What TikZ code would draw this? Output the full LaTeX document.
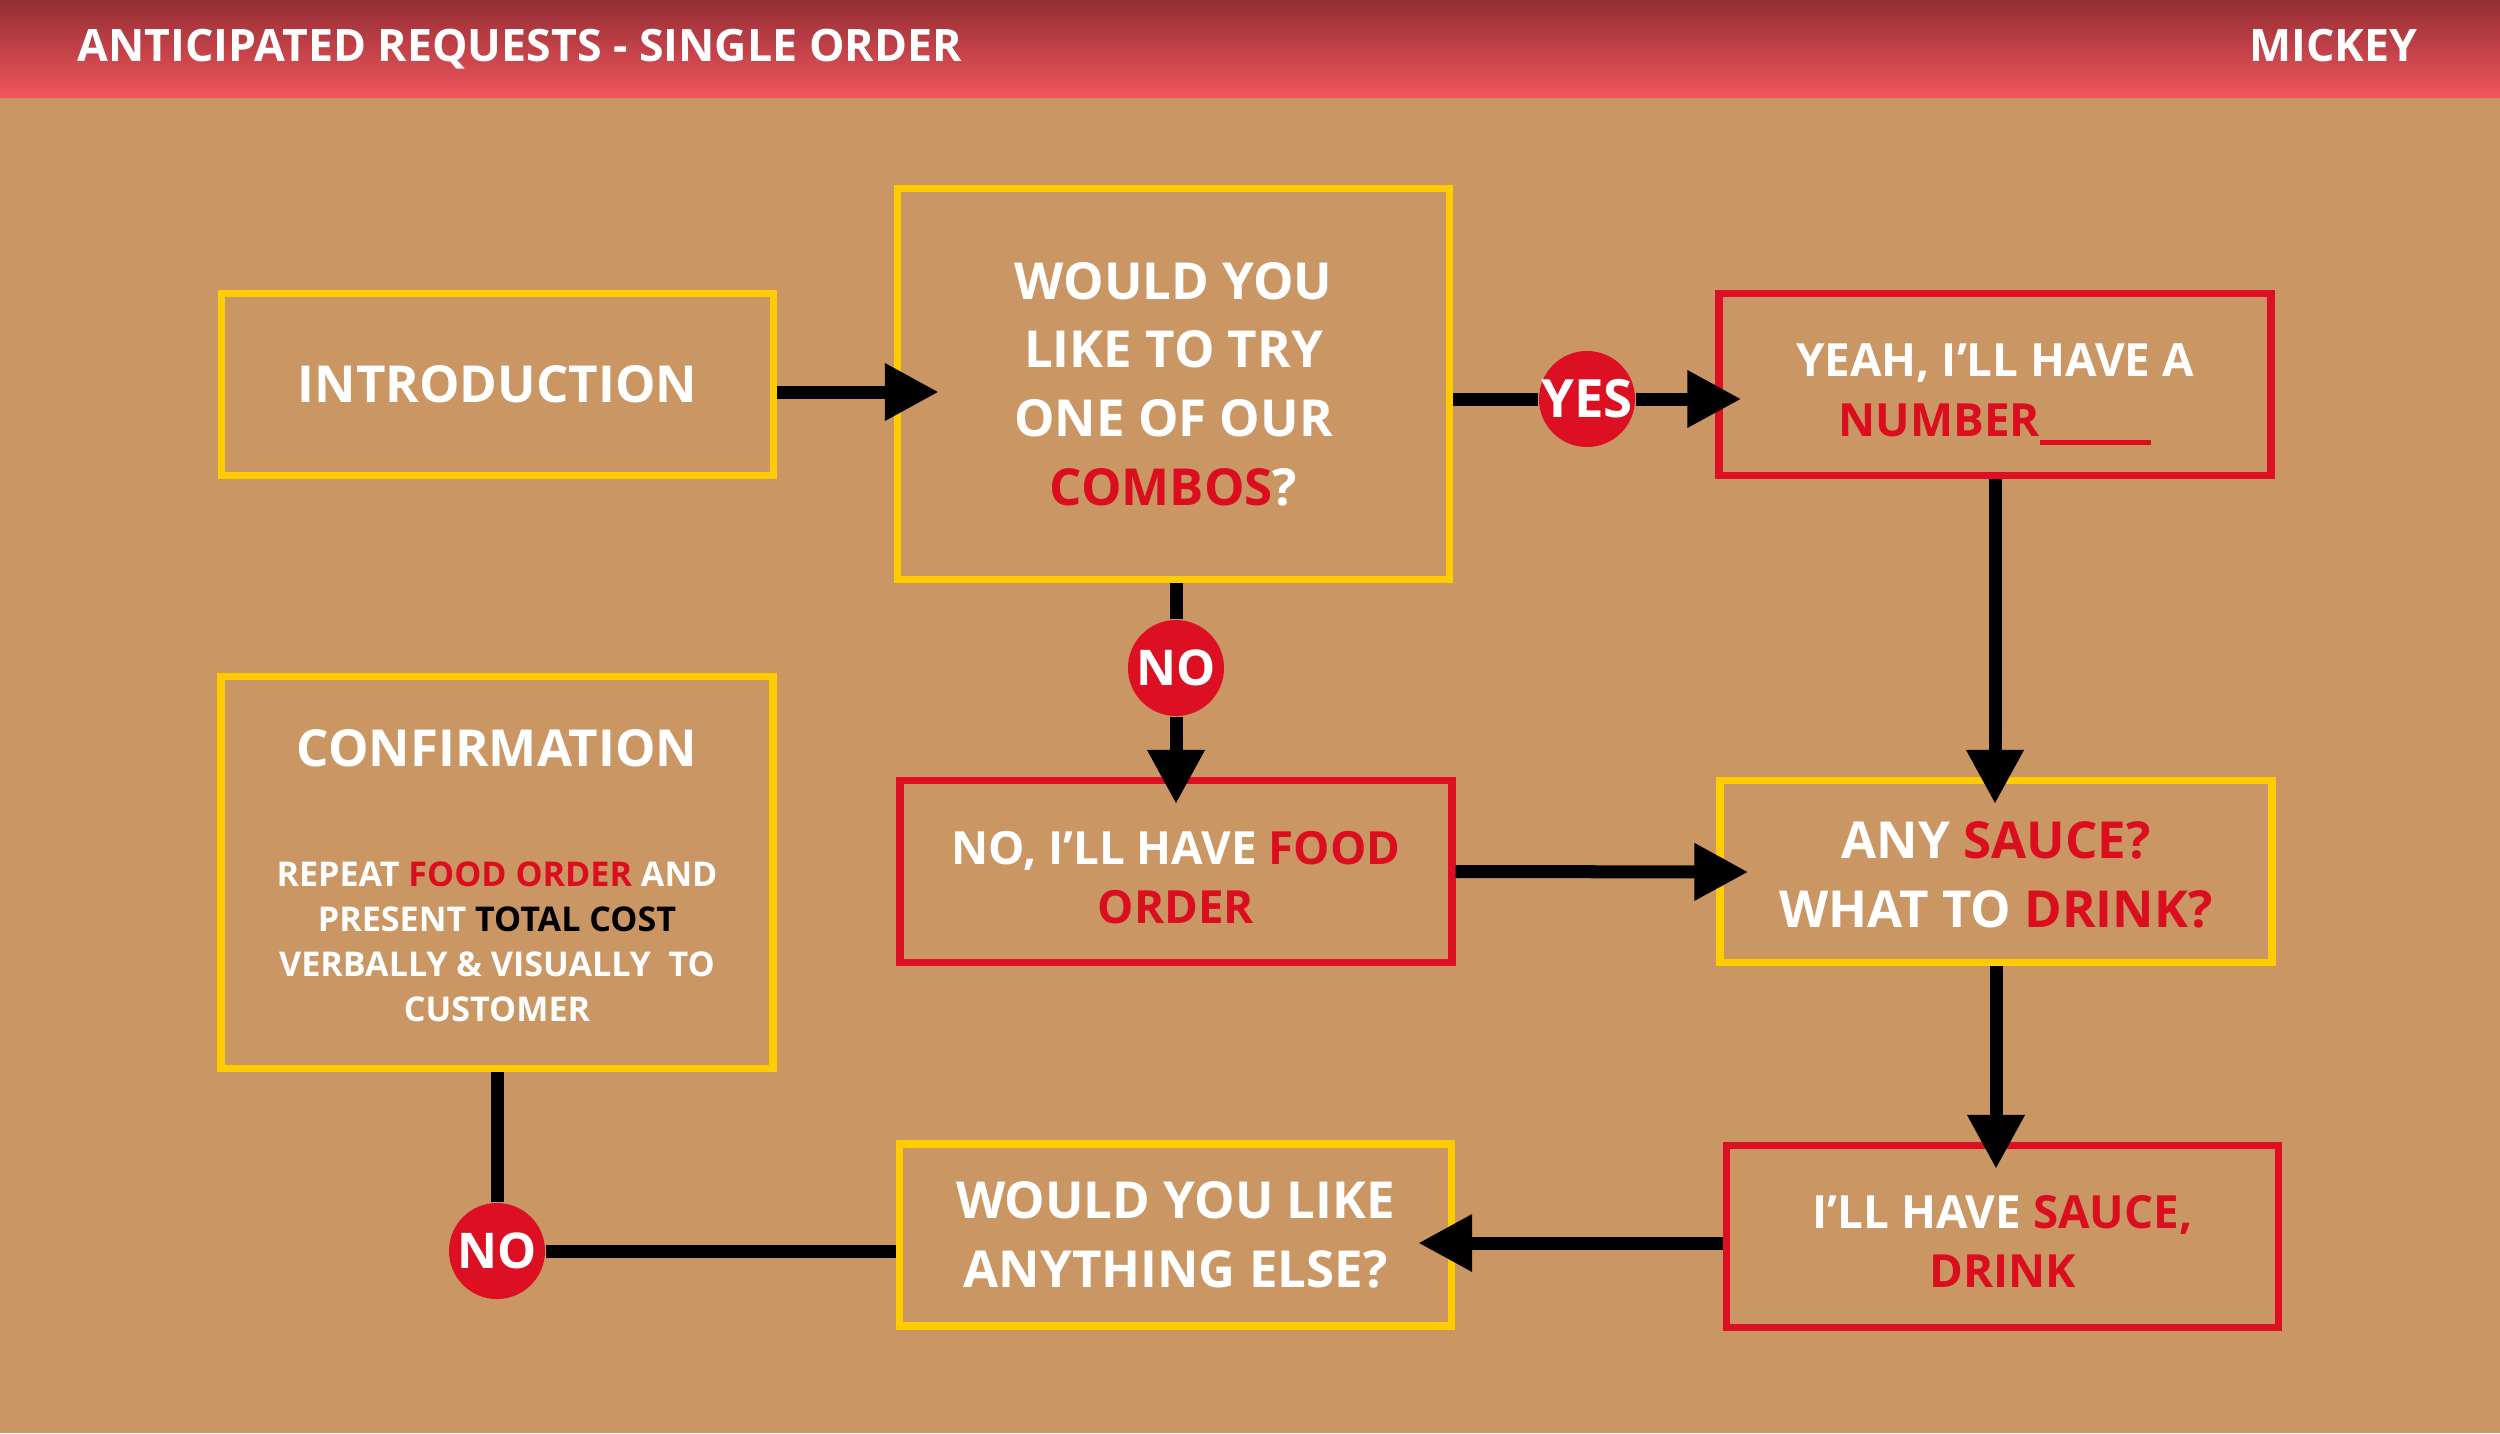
\documentclass[tikz,border=0pt]{standalone}
\usepackage{fontspec}
\setmainfont{Open Sans}
\newfontfamily\hdrfont{Open Sans}
\usetikzlibrary{arrows.meta,calc}
\definecolor{wood}{RGB}{202,151,100}
\definecolor{boxyel}{RGB}{255,204,0}
\definecolor{boxred}{RGB}{220,16,34}
\definecolor{txtred}{RGB}{218,14,30}
\definecolor{hdrtop}{RGB}{148,45,52}
\definecolor{hdrbot}{RGB}{240,86,92}
\begin{document}
\begin{tikzpicture}[x=0.01cm,y=-0.01cm,
  box/.style={draw, line width=0.075cm, minimum width=5.515cm, minimum height=1.815cm, inner sep=0pt, align=center, text=white, font=\bfseries\fontsize{14.5}{19.5}\selectfont},
  ybox/.style={box, draw=boxyel},
  rbox/.style={box, draw=boxred},
  smallfont/.style={font=\bfseries\fontsize{13}{17}\selectfont},
  conn/.style={line width=0.13cm, black},
  arr/.style={conn, -{Triangle[length=0.54cm,width=0.54cm]}},
  badge/.style={circle, fill=boxred, minimum size=0.96cm, inner sep=0pt, text=white, font=\bfseries\fontsize{15}{15}\selectfont},
  hdr/.style={text=white, inner sep=0pt, font=\hdrfont\bfseries\fontsize{12.7}{14}\selectfont}
]
\useasboundingbox (0,0) rectangle (2500,1433);
\fill[wood] (0,0) rectangle (2500,1433);
\shade[top color=hdrtop, bottom color=hdrbot] (0,0) rectangle (2500,97);
\node[hdr, anchor=base west] (title) at (77,61) {ANTICIPATED REQUESTS - SINGLE ORDER};
\node[hdr, anchor=base east] (author) at (2418,61) {MICKEY};

% boxes
\node[ybox] (intro) at (497.5,384.5) {INTRODUCTION};
\node[ybox, minimum height=3.905cm] (combos) at (1173.5,384) {WOULD YOU\\LIKE TO TRY\\ONE OF OUR\\\textcolor{txtred}{COMBOS}?};
\node[rbox, smallfont] (yeah) at (1995,384.5) {\rule{0pt}{15pt}YEAH, I’LL HAVE A\\\textcolor{txtred}{NUMBER\rule[-2.5pt]{1.11cm}{1.4pt}}};
\node[ybox, minimum height=3.915cm] (confirm) at (497,872.5) {};
\node[text=white, inner sep=0pt, font=\bfseries\fontsize{14.5}{19.5}\selectfont] (conftitle) at (497,748) {CONFIRMATION};
\node[text=white, inner sep=0pt, align=center, font=\bfseries\fontsize{9.7}{12.8}\selectfont] (conftext) at (497,942) {REPEAT \textcolor{txtred}{FOOD ORDER} AND\\PRESENT \textcolor{black}{TOTAL COST}\\VERBALLY \& VISUALLY\ \ TO\\CUSTOMER};
\node[rbox, smallfont] (nofood) at (1176,871.5) {\rule{0pt}{12.9pt}NO, I’LL HAVE \textcolor{txtred}{FOOD}\\\textcolor{txtred}{ORDER}};
\node[ybox] (anysauce) at (1996,871.5) {\rule{0pt}{12.5pt}ANY \textcolor{txtred}{SAUCE?}\\WHAT TO \textcolor{txtred}{DRINK?}};
\node[ybox] (else) at (1175.5,1235) {WOULD YOU LIKE\\ANYTHING ELSE?};
\node[rbox, smallfont] (ill) at (2002.5,1236.5) {\rule{0pt}{12.2pt}I’LL HAVE \textcolor{txtred}{SAUCE,}\\\textcolor{txtred}{DRINK}};

% badges
\node[badge] (yes) at (1587,399) {\makebox[0pt]{YES}};
\node[badge, font=\bfseries\fontsize{14}{14}\selectfont] (no1) at (1176,668) {\makebox[0pt]{NO}};
\node[badge, font=\bfseries\fontsize{14}{14}\selectfont] (no2) at (497,1251) {\makebox[0pt]{NO}};

% connectors
\draw[arr] ($(intro.east)+(0,7.5)$) -- ($(combos.west)+(45,8)$);
\draw[conn] (combos.east |- yes) -- (yes.west);
\draw[arr] (yes.east) -- ($(yes -| yeah.west)+(26,0)$);
\draw[arr] (yeah.south) -- ($(yeah.south |- anysauce.north)+(0,27)$);
\draw[conn] (combos.south -| no1) -- (no1.north);
\draw[arr] (no1.south) -- ($(no1 |- nofood.north)+(0,27)$);
\draw[arr] (nofood.east) -- ($(anysauce.west)+(32,0.5)$);
\draw[arr] (anysauce.south) -- ($(anysauce.south |- ill.north)+(0,27)$);
\draw[arr] ($(ill.west)+(0,6.5)$) -- ($(else.east)+(-37,8)$);
\draw[conn] (else.west |- no2) -- (no2.east);
\draw[conn] (no2.north) -- (no2 |- confirm.south);
\end{tikzpicture}
\end{document}
